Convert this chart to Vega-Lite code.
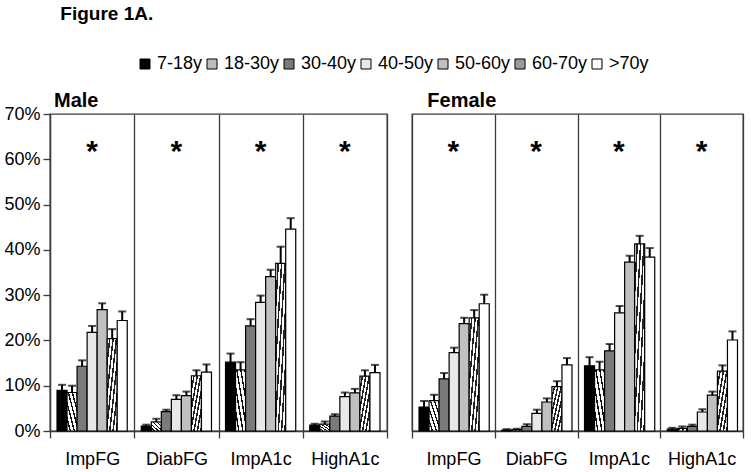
{
  "$schema": "https://vega.github.io/schema/vega-lite/v6.json",
  "background": "white",
  "padding": {"left": 3, "top": 5, "right": 5, "bottom": 5},
  "title": {"text": "Figure 1A.", "anchor": "start", "fontSize": 19, "fontWeight": "bold", "font": "Liberation Sans", "color": "black", "dx": 57, "offset": 31},
  "data": {"values": [
    {"sex": "Male", "group": "ImpFG", "age": "7-18y", "value": 9.0, "upper": 10.2},
    {"sex": "Male", "group": "ImpFG", "age": "18-30y", "value": 8.5, "upper": 10.0},
    {"sex": "Male", "group": "ImpFG", "age": "30-40y", "value": 14.3, "upper": 15.6},
    {"sex": "Male", "group": "ImpFG", "age": "40-50y", "value": 21.8, "upper": 23.2},
    {"sex": "Male", "group": "ImpFG", "age": "50-60y", "value": 26.8, "upper": 28.2},
    {"sex": "Male", "group": "ImpFG", "age": "60-70y", "value": 20.4, "upper": 22.5},
    {"sex": "Male", "group": "ImpFG", "age": ">70y", "value": 24.4, "upper": 26.4},
    {"sex": "Male", "group": "DiabFG", "age": "7-18y", "value": 1.1, "upper": 1.4},
    {"sex": "Male", "group": "DiabFG", "age": "18-30y", "value": 2.0, "upper": 2.7},
    {"sex": "Male", "group": "DiabFG", "age": "30-40y", "value": 4.3, "upper": 4.7},
    {"sex": "Male", "group": "DiabFG", "age": "40-50y", "value": 7.0, "upper": 7.9},
    {"sex": "Male", "group": "DiabFG", "age": "50-60y", "value": 7.8, "upper": 8.7},
    {"sex": "Male", "group": "DiabFG", "age": "60-70y", "value": 12.2, "upper": 13.4},
    {"sex": "Male", "group": "DiabFG", "age": ">70y", "value": 13.0, "upper": 14.7},
    {"sex": "Male", "group": "ImpA1c", "age": "7-18y", "value": 15.2, "upper": 17.1},
    {"sex": "Male", "group": "ImpA1c", "age": "18-30y", "value": 13.5, "upper": 15.2},
    {"sex": "Male", "group": "ImpA1c", "age": "30-40y", "value": 23.2, "upper": 24.7},
    {"sex": "Male", "group": "ImpA1c", "age": "40-50y", "value": 28.4, "upper": 29.9},
    {"sex": "Male", "group": "ImpA1c", "age": "50-60y", "value": 34.1, "upper": 35.6},
    {"sex": "Male", "group": "ImpA1c", "age": "60-70y", "value": 37.0, "upper": 40.7},
    {"sex": "Male", "group": "ImpA1c", "age": ">70y", "value": 44.6, "upper": 47.0},
    {"sex": "Male", "group": "HighA1c", "age": "7-18y", "value": 1.3, "upper": 1.6},
    {"sex": "Male", "group": "HighA1c", "age": "18-30y", "value": 1.5, "upper": 2.1},
    {"sex": "Male", "group": "HighA1c", "age": "30-40y", "value": 3.3, "upper": 3.7},
    {"sex": "Male", "group": "HighA1c", "age": "40-50y", "value": 7.6, "upper": 8.5},
    {"sex": "Male", "group": "HighA1c", "age": "50-60y", "value": 8.4, "upper": 9.3},
    {"sex": "Male", "group": "HighA1c", "age": "60-70y", "value": 12.1, "upper": 13.4},
    {"sex": "Male", "group": "HighA1c", "age": ">70y", "value": 12.9, "upper": 14.6},
    {"sex": "Female", "group": "ImpFG", "age": "7-18y", "value": 5.3, "upper": 6.6},
    {"sex": "Female", "group": "ImpFG", "age": "18-30y", "value": 6.7, "upper": 8.0},
    {"sex": "Female", "group": "ImpFG", "age": "30-40y", "value": 11.5, "upper": 12.8},
    {"sex": "Female", "group": "ImpFG", "age": "40-50y", "value": 17.3, "upper": 18.4},
    {"sex": "Female", "group": "ImpFG", "age": "50-60y", "value": 23.7, "upper": 25.0},
    {"sex": "Female", "group": "ImpFG", "age": "60-70y", "value": 25.0, "upper": 26.7},
    {"sex": "Female", "group": "ImpFG", "age": ">70y", "value": 28.1, "upper": 30.1},
    {"sex": "Female", "group": "DiabFG", "age": "7-18y", "value": 0.2, "upper": 0.4},
    {"sex": "Female", "group": "DiabFG", "age": "18-30y", "value": 0.3, "upper": 0.5},
    {"sex": "Female", "group": "DiabFG", "age": "30-40y", "value": 1.0, "upper": 1.5},
    {"sex": "Female", "group": "DiabFG", "age": "40-50y", "value": 3.9, "upper": 4.7},
    {"sex": "Female", "group": "DiabFG", "age": "50-60y", "value": 6.4, "upper": 7.2},
    {"sex": "Female", "group": "DiabFG", "age": "60-70y", "value": 9.8, "upper": 11.0},
    {"sex": "Female", "group": "DiabFG", "age": ">70y", "value": 14.6, "upper": 16.1},
    {"sex": "Female", "group": "ImpA1c", "age": "7-18y", "value": 14.4, "upper": 16.3},
    {"sex": "Female", "group": "ImpA1c", "age": "18-30y", "value": 13.5, "upper": 15.3},
    {"sex": "Female", "group": "ImpA1c", "age": "30-40y", "value": 17.7, "upper": 19.2},
    {"sex": "Female", "group": "ImpA1c", "age": "40-50y", "value": 26.1, "upper": 27.6},
    {"sex": "Female", "group": "ImpA1c", "age": "50-60y", "value": 37.3, "upper": 38.7},
    {"sex": "Female", "group": "ImpA1c", "age": "60-70y", "value": 41.3, "upper": 43.1},
    {"sex": "Female", "group": "ImpA1c", "age": ">70y", "value": 38.4, "upper": 40.4},
    {"sex": "Female", "group": "HighA1c", "age": "7-18y", "value": 0.4, "upper": 0.7},
    {"sex": "Female", "group": "HighA1c", "age": "18-30y", "value": 0.6, "upper": 1.0},
    {"sex": "Female", "group": "HighA1c", "age": "30-40y", "value": 1.0, "upper": 1.4},
    {"sex": "Female", "group": "HighA1c", "age": "40-50y", "value": 4.2, "upper": 4.8},
    {"sex": "Female", "group": "HighA1c", "age": "50-60y", "value": 7.9, "upper": 8.7},
    {"sex": "Female", "group": "HighA1c", "age": "60-70y", "value": 13.2, "upper": 14.5},
    {"sex": "Female", "group": "HighA1c", "age": ">70y", "value": 20.1, "upper": 22.0}
  ]},
  "spacing": 21,
  "resolve": {"scale": {"fill": "shared", "y": "shared"}, "legend": {"fill": "shared"}},
  "hconcat": [
    {
      "title": {"text": "Male", "anchor": "start", "fontSize": 20, "fontWeight": "bold", "font": "Liberation Sans", "color": "black", "offset": 3, "dx": 50, "dy": 9},
      "width": 337,
      "height": 317,
      "transform": [{"filter": "datum.sex === 'Male'"}],
      "encoding": {
        "x": {
          "field": "group", "type": "nominal", "sort": ["ImpFG", "DiabFG", "ImpA1c", "HighA1c"],
          "scale": {"paddingInner": 0, "paddingOuter": 0},
          "axis": {
            "title": null, "tickBand": "extent", "grid": true, "gridColor": "#3a3a3a", "gridWidth": 1.3,
            "domainColor": "#3a3a3a", "domainWidth": 1.3, "tickColor": "#3a3a3a", "tickWidth": 1.3, "tickSize": 7,
            "labelAngle": 0, "labelFontSize": 18, "labelPadding": 12, "labelColor": "black", "labelFont": "Liberation Sans"
          }
        }
      },
      "layer": [
        {
          "mark": {"type": "bar", "stroke": "black", "strokeWidth": 1.2},
          "encoding": {
            "xOffset": {"field": "age", "type": "nominal", "sort": ["7-18y", "18-30y", "30-40y", "40-50y", "50-60y", "60-70y", ">70y"], "scale": {"paddingInner": 0, "paddingOuter": 0.7}},
            "y": {
              "field": "value", "type": "quantitative", "scale": {"domain": [0, 70]},
              "axis": {
                "title": null, "values": [0, 10, 20, 30, 40, 50, 60, 70], "labelExpr": "datum.value + '%'", "grid": false,
                "labelFontSize": 18, "labelFont": "Liberation Sans", "labelColor": "black", "labelPadding": 3,
                "tickSize": 7, "tickColor": "#3a3a3a", "tickWidth": 1.3, "domainColor": "#3a3a3a", "domainWidth": 1.3
              }
            },
            "fill": {
              "field": "age", "type": "nominal",
              "scale": {"domain": ["7-18y", "18-30y", "30-40y", "40-50y", "50-60y", "60-70y", ">70y"],
                        "range": ["#000000", "#bcbcbc", "#7a7a7a", "#e8e8e8", "#c0c0c0", "#9c9c9c", "#ffffff"]},
              "legend": {
                "title": null, "orient": "none", "direction": "horizontal", "legendX": 86, "legendY": -59,
                "symbolType": "square", "symbolSize": 100, "symbolStrokeColor": "black", "symbolStrokeWidth": 1,
                "labelFontSize": 18, "labelFont": "Liberation Sans", "labelColor": "black", "labelOffset": 3, "columnPadding": 0
              },
              "condition": [
                {"test": "datum.age === '18-30y'", "value": {"gradient": "linear", "x1": 0, "y1": 1, "x2": 1, "y2": 0, "stops": [
                  {"offset": 0, "color": "#ffffff"}, {"offset": 0.13, "color": "#ffffff"}, {"offset": 0.13, "color": "#111111"}, {"offset": 0.2, "color": "#111111"},
                  {"offset": 0.2, "color": "#ffffff"}, {"offset": 0.33, "color": "#ffffff"}, {"offset": 0.33, "color": "#111111"}, {"offset": 0.4, "color": "#111111"},
                  {"offset": 0.4, "color": "#ffffff"}, {"offset": 0.53, "color": "#ffffff"}, {"offset": 0.53, "color": "#111111"}, {"offset": 0.6, "color": "#111111"},
                  {"offset": 0.6, "color": "#ffffff"}, {"offset": 0.73, "color": "#ffffff"}, {"offset": 0.73, "color": "#111111"}, {"offset": 0.8, "color": "#111111"},
                  {"offset": 0.8, "color": "#ffffff"}, {"offset": 0.93, "color": "#ffffff"}, {"offset": 0.93, "color": "#111111"}, {"offset": 1, "color": "#111111"}
                ]}},
                {"test": "datum.age === '60-70y'", "value": {"gradient": "linear", "x1": 0, "y1": 0, "x2": 1, "y2": 1, "stops": [
                  {"offset": 0, "color": "#ffffff"}, {"offset": 0.09, "color": "#ffffff"}, {"offset": 0.09, "color": "#222222"}, {"offset": 0.167, "color": "#222222"},
                  {"offset": 0.167, "color": "#ffffff"}, {"offset": 0.257, "color": "#ffffff"}, {"offset": 0.257, "color": "#222222"}, {"offset": 0.333, "color": "#222222"},
                  {"offset": 0.333, "color": "#ffffff"}, {"offset": 0.423, "color": "#ffffff"}, {"offset": 0.423, "color": "#222222"}, {"offset": 0.5, "color": "#222222"},
                  {"offset": 0.5, "color": "#ffffff"}, {"offset": 0.59, "color": "#ffffff"}, {"offset": 0.59, "color": "#222222"}, {"offset": 0.667, "color": "#222222"},
                  {"offset": 0.667, "color": "#ffffff"}, {"offset": 0.757, "color": "#ffffff"}, {"offset": 0.757, "color": "#222222"}, {"offset": 0.833, "color": "#222222"},
                  {"offset": 0.833, "color": "#ffffff"}, {"offset": 0.923, "color": "#ffffff"}, {"offset": 0.923, "color": "#222222"}, {"offset": 1, "color": "#222222"}
                ]}}
              ]
            }
          }
        },
        {
          "mark": {"type": "rule", "color": "black", "strokeWidth": 2},
          "encoding": {
            "xOffset": {"field": "age", "type": "nominal", "sort": ["7-18y", "18-30y", "30-40y", "40-50y", "50-60y", "60-70y", ">70y"]},
            "y": {"field": "value", "type": "quantitative"}, "y2": {"field": "upper"}
          }
        },
        {
          "mark": {"type": "tick", "color": "black", "thickness": 2, "size": 8},
          "encoding": {
            "xOffset": {"field": "age", "type": "nominal", "sort": ["7-18y", "18-30y", "30-40y", "40-50y", "50-60y", "60-70y", ">70y"]},
            "y": {"field": "upper", "type": "quantitative"}
          }
        },
        {
          "transform": [{"filter": "datum.age === '40-50y'"}],
          "mark": {"type": "text", "text": "*", "fontSize": 30, "font": "Liberation Sans", "fontWeight": "bold", "color": "black", "baseline": "middle", "dy": 2},
          "encoding": {"y": {"datum": 62}}
        }
      ]
    },
    {
      "title": {"text": "Female", "anchor": "start", "fontSize": 20, "fontWeight": "bold", "font": "Liberation Sans", "color": "black", "offset": 3, "dx": 16},
      "width": 331,
      "height": 317,
      "transform": [{"filter": "datum.sex === 'Female'"}],
      "encoding": {
        "x": {
          "field": "group", "type": "nominal", "sort": ["ImpFG", "DiabFG", "ImpA1c", "HighA1c"],
          "scale": {"paddingInner": 0, "paddingOuter": 0},
          "axis": {
            "title": null, "tickBand": "extent", "grid": true, "gridColor": "#3a3a3a", "gridWidth": 1.3,
            "domainColor": "#3a3a3a", "domainWidth": 1.3, "tickColor": "#3a3a3a", "tickWidth": 1.3, "tickSize": 7,
            "labelAngle": 0, "labelFontSize": 18, "labelPadding": 12, "labelColor": "black", "labelFont": "Liberation Sans"
          }
        }
      },
      "layer": [
        {
          "mark": {"type": "bar", "stroke": "black", "strokeWidth": 1.2},
          "encoding": {
            "xOffset": {"field": "age", "type": "nominal", "sort": ["7-18y", "18-30y", "30-40y", "40-50y", "50-60y", "60-70y", ">70y"], "scale": {"paddingInner": 0, "paddingOuter": 0.7}},
            "y": {"field": "value", "type": "quantitative", "scale": {"domain": [0, 70]}, "axis": null},
            "fill": {
              "field": "age", "type": "nominal",
              "condition": [
                {"test": "datum.age === '18-30y'", "value": {"gradient": "linear", "x1": 0, "y1": 1, "x2": 1, "y2": 0, "stops": [
                  {"offset": 0, "color": "#ffffff"}, {"offset": 0.13, "color": "#ffffff"}, {"offset": 0.13, "color": "#111111"}, {"offset": 0.2, "color": "#111111"},
                  {"offset": 0.2, "color": "#ffffff"}, {"offset": 0.33, "color": "#ffffff"}, {"offset": 0.33, "color": "#111111"}, {"offset": 0.4, "color": "#111111"},
                  {"offset": 0.4, "color": "#ffffff"}, {"offset": 0.53, "color": "#ffffff"}, {"offset": 0.53, "color": "#111111"}, {"offset": 0.6, "color": "#111111"},
                  {"offset": 0.6, "color": "#ffffff"}, {"offset": 0.73, "color": "#ffffff"}, {"offset": 0.73, "color": "#111111"}, {"offset": 0.8, "color": "#111111"},
                  {"offset": 0.8, "color": "#ffffff"}, {"offset": 0.93, "color": "#ffffff"}, {"offset": 0.93, "color": "#111111"}, {"offset": 1, "color": "#111111"}
                ]}},
                {"test": "datum.age === '60-70y'", "value": {"gradient": "linear", "x1": 0, "y1": 0, "x2": 1, "y2": 1, "stops": [
                  {"offset": 0, "color": "#ffffff"}, {"offset": 0.09, "color": "#ffffff"}, {"offset": 0.09, "color": "#222222"}, {"offset": 0.167, "color": "#222222"},
                  {"offset": 0.167, "color": "#ffffff"}, {"offset": 0.257, "color": "#ffffff"}, {"offset": 0.257, "color": "#222222"}, {"offset": 0.333, "color": "#222222"},
                  {"offset": 0.333, "color": "#ffffff"}, {"offset": 0.423, "color": "#ffffff"}, {"offset": 0.423, "color": "#222222"}, {"offset": 0.5, "color": "#222222"},
                  {"offset": 0.5, "color": "#ffffff"}, {"offset": 0.59, "color": "#ffffff"}, {"offset": 0.59, "color": "#222222"}, {"offset": 0.667, "color": "#222222"},
                  {"offset": 0.667, "color": "#ffffff"}, {"offset": 0.757, "color": "#ffffff"}, {"offset": 0.757, "color": "#222222"}, {"offset": 0.833, "color": "#222222"},
                  {"offset": 0.833, "color": "#ffffff"}, {"offset": 0.923, "color": "#ffffff"}, {"offset": 0.923, "color": "#222222"}, {"offset": 1, "color": "#222222"}
                ]}}
              ]
            }
          }
        },
        {
          "mark": {"type": "rule", "color": "black", "strokeWidth": 2},
          "encoding": {
            "xOffset": {"field": "age", "type": "nominal", "sort": ["7-18y", "18-30y", "30-40y", "40-50y", "50-60y", "60-70y", ">70y"]},
            "y": {"field": "value", "type": "quantitative"}, "y2": {"field": "upper"}
          }
        },
        {
          "mark": {"type": "tick", "color": "black", "thickness": 2, "size": 8},
          "encoding": {
            "xOffset": {"field": "age", "type": "nominal", "sort": ["7-18y", "18-30y", "30-40y", "40-50y", "50-60y", "60-70y", ">70y"]},
            "y": {"field": "upper", "type": "quantitative"}
          }
        },
        {
          "transform": [{"filter": "datum.age === '40-50y'"}],
          "mark": {"type": "text", "text": "*", "fontSize": 30, "font": "Liberation Sans", "fontWeight": "bold", "color": "black", "baseline": "middle", "dy": 2},
          "encoding": {"y": {"datum": 62}}
        }
      ]
    }
  ],
  "config": {
    "view": {"stroke": "#3a3a3a", "strokeWidth": 1.3},
    "font": "Liberation Sans"
  }
}
